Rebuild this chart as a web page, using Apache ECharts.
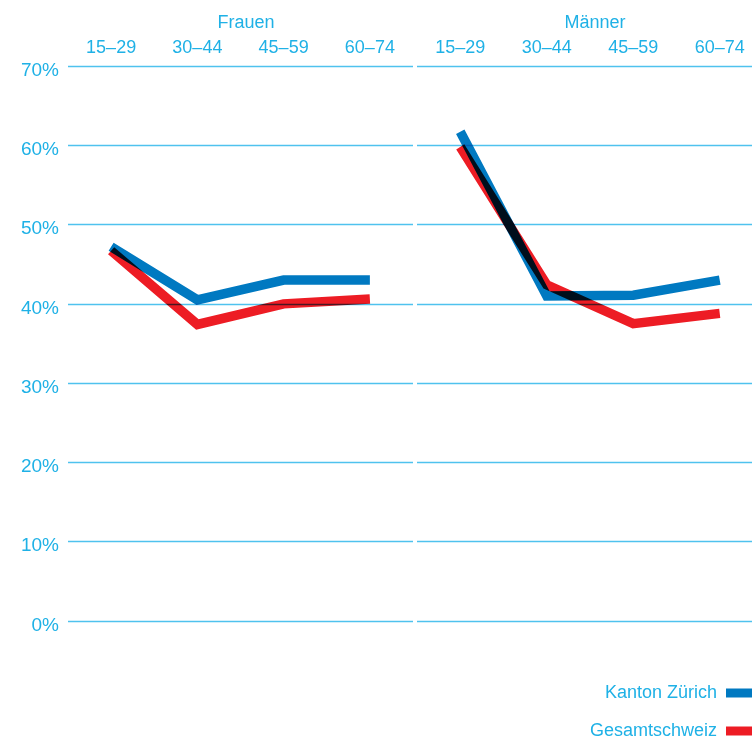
<!DOCTYPE html>
<html>
<head>
<meta charset="utf-8">
<script src="https://cdn.jsdelivr.net/npm/echarts@6/dist/echarts.min.js"></script>
<style>html,body{margin:0;padding:0;background:#fff}#c{width:752px;height:736px}</style>
</head>
<body>
<div id="c"></div>
<script>
var categories = ['15–29', '30–44', '45–59', '60–74'];
var panels = ['Frauen', 'Männer'];
var yTicks = [0, 10, 20, 30, 40, 50, 60, 70];
var frauenZuerich = [47.2, 40.5, 43.0, 43.0];
var frauenSchweiz = [46.7, 37.4, 40.0, 40.6];
var maennerZuerich = [61.7, 41.0, 41.1, 43.0];
var maennerSchweiz = [59.8, 42.4, 37.5, 38.8];
var seriesNames = ['Kanton Zürich', 'Gesamtschweiz'];

var TXT = '#1fb1e6', GRID = '#4fc2ee', BLUE = '#0079c1', RED = '#ed1c24';
var FONT = 'Liberation Sans';

var chart = echarts.init(document.getElementById('c'));
function xAx(gi) {
  return {
    type: 'category', gridIndex: gi, data: categories, position: 'top',
    boundaryGap: true,
    axisLine: {show: false}, axisTick: {show: false},
    axisLabel: {color: TXT, fontSize: 18, fontFamily: FONT, margin: 9}
  };
}
function yAx(gi, showLabel) {
  return {
    type: 'value', gridIndex: gi, min: yTicks[0], max: yTicks[yTicks.length - 1], interval: 10,
    axisLine: {show: false}, axisTick: {show: false},
    axisLabel: {show: showLabel, color: TXT, fontSize: 19, fontFamily: FONT, margin: 9,
      verticalAlign: 'top', lineHeight: 9,
      formatter: function (v) { return v + '%'; }},
    splitLine: {show: true, lineStyle: {color: GRID, width: 1.3}}
  };
}
function ser(name, data, color, gi) {
  return {
    type: 'line', name: name, data: data, xAxisIndex: gi, yAxisIndex: gi,
    symbol: 'none', color: color, blendMode: 'multiply',
    lineStyle: {color: color, width: 9.5, cap: 'butt', join: 'miter', miterLimit: 10},
    itemStyle: {color: color},
    emphasis: {disabled: true}, animation: false
  };
}
function leg(name, top) {
  return {
    orient: 'vertical', right: -5, top: top, align: 'right', icon: 'rect',
    itemWidth: 26, itemHeight: 9,
    data: [name],
    textStyle: {color: TXT, fontSize: 18, fontFamily: FONT, padding: [0, 4, 0, 0]},
    selectedMode: false
  };
}
chart.setOption({
  animation: false,
  title: [
    {text: panels[0], left: 241, top: 9, textAlign: 'center', textStyle: {color: TXT, fontSize: 18, fontWeight: 'normal', fontFamily: FONT}},
    {text: panels[1], left: 590, top: 9, textAlign: 'center', textStyle: {color: TXT, fontSize: 18, fontWeight: 'normal', fontFamily: FONT}}
  ],
  grid: [
    {left: 68, right: 339, top: 66, bottom: 115, outerBoundsMode: 'none'},
    {left: 417, right: -11, top: 66, bottom: 115, outerBoundsMode: 'none'}
  ],
  xAxis: [xAx(0), xAx(1)],
  yAxis: [yAx(0, true), yAx(1, false)],
  legend: [leg(seriesNames[0], 679), leg(seriesNames[1], 717)],
  series: [
    ser(seriesNames[0], frauenZuerich, BLUE, 0),
    ser(seriesNames[1], frauenSchweiz, RED, 0),
    ser(seriesNames[0], maennerZuerich, BLUE, 1),
    ser(seriesNames[1], maennerSchweiz, RED, 1)
  ]
});
</script>
</body>
</html>
